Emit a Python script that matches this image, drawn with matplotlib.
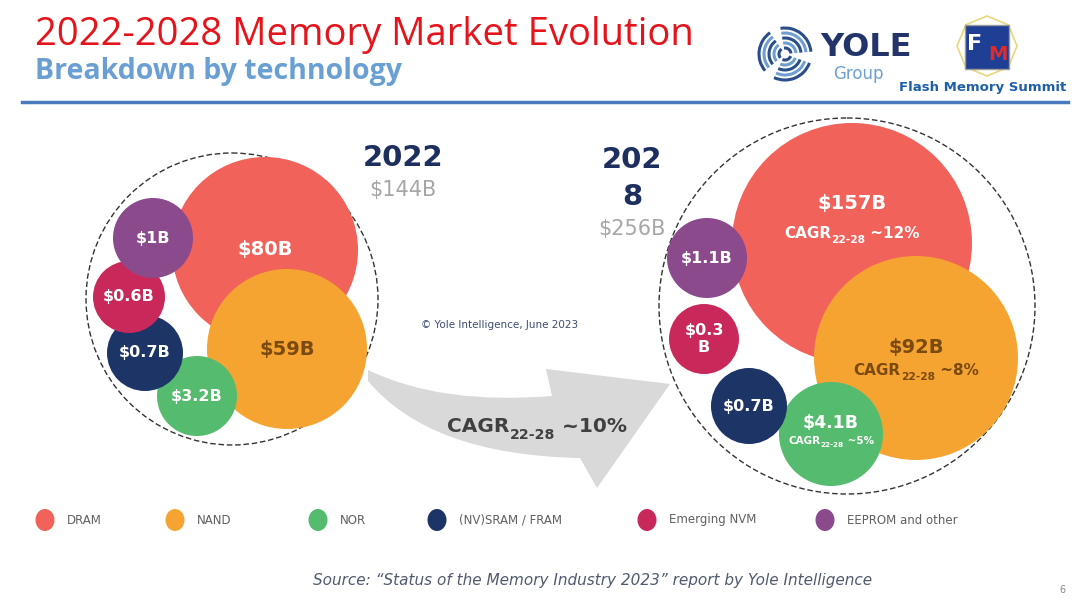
import matplotlib
matplotlib.use('Agg')
import matplotlib.pyplot as plt
from matplotlib.patches import Circle, Ellipse, Arc, Rectangle, PathPatch, RegularPolygon
from matplotlib.path import Path

# ---------------------------------------------------------------- data
technologies = ['DRAM', 'NAND', 'NOR', '(NV)SRAM / FRAM', 'Emerging NVM', 'EEPROM and other']
colors = ['#f0625a', '#f6a431', '#55bb6f', '#1d3466', '#c8295a', '#8b4a8c']
labels_2022 = ['$80B', '$59B', '$3.2B', '$0.7B', '$0.6B', '$1B']
labels_2028 = ['$157B', '$92B', '$4.1B', '$0.7B', '$0.3\nB', '$1.1B']
cagr_2028 = ['~12%', '~8%', '~5%', None, None, None]
total_2022 = '$144B'
total_2028 = '$256B'
cagr_total = '~10%'

# ---------------------------------------------------------------- layout (pixels)
pos_2022 = [(265, 250, 93), (287, 349, 80), (197, 396, 40), (145, 353, 38), (129, 297, 36), (153, 238, 40)]
pos_2028 = [(852, 243, 120), (916, 358, 102), (831, 434, 52), (749, 406, 38), (704, 339, 35), (707, 258, 40)]
legend_x = [45, 175, 318, 437, 647, 825]

NAVY = '#1d2f5e'
BROWN = '#7a4a10'
FONT = 'DejaVu Sans'

fig = plt.figure(figsize=(10.8, 6.07), dpi=100)
ax = fig.add_axes([0, 0, 1, 1])
ax.set_xlim(0, 1080)
ax.set_ylim(607, 0)
ax.axis('off')
renderer = fig.canvas.get_renderer()


def cagr_text(x, y, rest, size, color):
    # "CAGR" + subscript "22-28" + rest, centred on x
    parts = [('CAGR', size, 0), ('22-28', size * 0.7, size * 0.45), (' ' + rest, size, 0)]
    texts = []
    for s, fs, dy in parts:
        t = ax.text(0, y + dy, s, fontsize=fs, fontweight='bold', color=color,
                    family=FONT, ha='left', va='baseline', zorder=5)
        texts.append(t)
    widths = [t.get_window_extent(renderer).width for t in texts]
    start = x - sum(widths) / 2
    for t, w in zip(texts, widths):
        t.set_x(start)
        start += w


# ---------------------------------------------------------------- header
ax.text(35, 35, '2022-2028 Memory Market Evolution', fontsize=27.5, color='#e3141b',
        family='Open Sans', ha='left', va='center')
ax.text(35, 72, 'Breakdown by technology', fontsize=20.5, fontweight='bold', color='#6a9fd4',
        family='Open Sans', ha='left', va='center')
ax.plot([22, 1068], [102, 102], color='#4a7bbf', lw=2.5)

# yole logo
for r, c in [(6, '#2a4e8a'), (11, '#6f9fd0'), (16, '#2a4e8a'), (21, '#6f9fd0'), (26, '#2a4e8a')]:
    for a0 in (20, 140, 260):
        ax.add_patch(Arc((785, 54), 2 * r, 2 * r, theta1=a0, theta2=a0 + 95, color=c, lw=2.2))
ax.text(820, 48, 'YOLE', fontsize=23, fontweight='bold', color='#22346a', family=FONT,
        ha='left', va='center')
ax.text(858, 74, 'Group', fontsize=12, color='#6f9fd0', family=FONT, ha='center', va='center')

# flash memory summit logo
ax.add_patch(RegularPolygon((987, 46), 8, radius=30, fill=False, ec='#e8d77a', lw=1.2))
ax.add_patch(Rectangle((965, 25), 44, 44, fc='#1f3f95', ec='#9a9a9a', lw=1))
ax.text(975, 44, 'F', fontsize=16, fontweight='bold', color='white', family=FONT, ha='center', va='center')
ax.text(998, 54, 'M', fontsize=14, fontweight='bold', color='#e32a2a', family=FONT, ha='center', va='center')
ax.text(1066, 88, 'Flash Memory Summit', fontsize=9.5, fontweight='bold', color='#1f5fa8',
        family=FONT, ha='right', va='center')

# ---------------------------------------------------------------- arrow
verts = [(368, 370), (440, 405), (552, 396), (546, 369), (670, 384), (597, 488),
         (580, 458), (430, 455), (368, 381), (368, 370)]
codes = [Path.MOVETO, Path.CURVE3, Path.CURVE3, Path.LINETO, Path.LINETO, Path.LINETO,
         Path.LINETO, Path.CURVE3, Path.CURVE3, Path.CLOSEPOLY]
ax.add_patch(PathPatch(Path(verts, codes), fc='#d9d9d9', ec='none', zorder=1))
cagr_text(537, 432, cagr_total, 14.5, '#404040')

# ---------------------------------------------------------------- bubbles 2022
ax.add_patch(Circle((232, 299), 146, fill=False, ls=(0, (4, 2)), ec='#333333', lw=1, zorder=2))
for (x, y, r), c, lab in zip(pos_2022, colors, labels_2022):
    ax.add_patch(Circle((x, y), r, fc=c, ec='none', zorder=3))
    tc = BROWN if c == '#f6a431' else 'white'
    ax.text(x, y, lab, fontsize=14 if r > 60 else 11.5, fontweight='bold', color=tc,
            family=FONT, ha='center', va='center', zorder=4)
ax.text(403, 158, '2022', fontsize=21, fontweight='bold', color=NAVY, family=FONT, ha='center', va='center')
ax.text(403, 190, total_2022, fontsize=15, color='#a6a6a6', family=FONT, ha='center', va='center')

# ---------------------------------------------------------------- bubbles 2028
ax.add_patch(Circle((847, 306), 188, fill=False, ls=(0, (4, 2)), ec='#333333', lw=1, zorder=2))
for (x, y, r), c, lab, cg in zip(pos_2028, colors, labels_2028, cagr_2028):
    ax.add_patch(Circle((x, y), r, fc=c, ec='none', zorder=3))
    tc = BROWN if c == '#f6a431' else 'white'
    if cg is None:
        ax.text(x, y, lab, fontsize=11.5, fontweight='bold', color=tc, family=FONT,
                ha='center', va='center', zorder=4, linespacing=1.1)
    elif r > 60:
        ax.text(x, y - 40 if r > 110 else y - 10, lab, fontsize=14, fontweight='bold', color=tc,
                family=FONT, ha='center', va='center', zorder=4)
        cagr_text(x, y - 5 if r > 110 else y + 17, cg, 11, tc)
    else:
        ax.text(x, y - 11, lab, fontsize=12.5, fontweight='bold', color=tc, family=FONT,
                ha='center', va='center', zorder=4)
        cagr_text(x, y + 10, cg, 7.5, tc)
ax.text(632, 160, '202', fontsize=21, fontweight='bold', color=NAVY, family=FONT, ha='center', va='center')
ax.text(632, 197, '8', fontsize=21, fontweight='bold', color=NAVY, family=FONT, ha='center', va='center')
ax.text(632, 229, total_2028, fontsize=15, color='#a6a6a6', family=FONT, ha='center', va='center')

ax.text(500, 325, '\u00a9 Yole Intelligence, June 2023', fontsize=7.5, color='#3d4d6e',
        family=FONT, ha='center', va='center')

# ---------------------------------------------------------------- legend
for lx, c, name in zip(legend_x, colors, technologies):
    ax.add_patch(Ellipse((lx, 520), 19, 22, fc=c, ec='none'))
    ax.text(lx + 22, 520, name, fontsize=8.5, color='#606060', family=FONT, ha='left', va='center')

ax.text(593, 580, 'Source: \u201cStatus of the Memory Industry 2023\u201d report by Yole Intelligence',
        fontsize=11, style='italic', color='#505a6e', family=FONT, ha='center', va='center')
ax.text(1062, 590, '6', fontsize=7, color='#888888', family=FONT, ha='center', va='center')

fig.savefig('out.png', dpi=100)
